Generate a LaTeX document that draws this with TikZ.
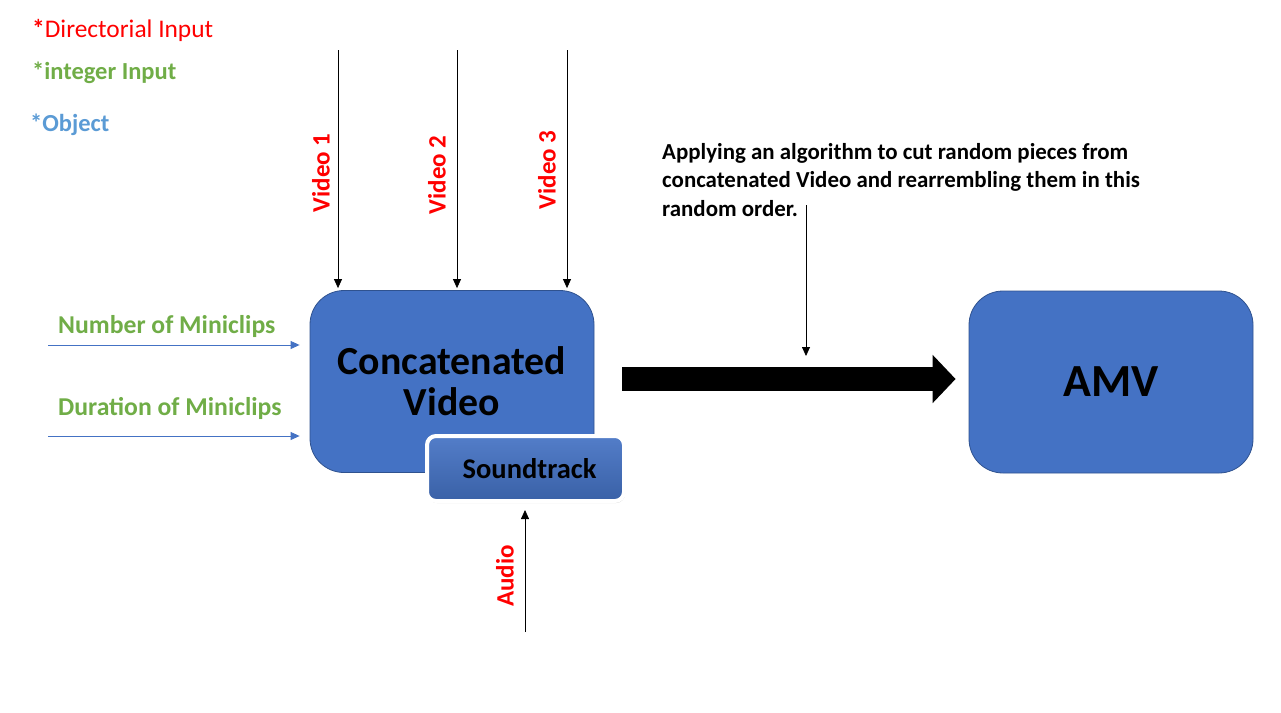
\documentclass[tikz,border=0pt]{standalone}
\usepackage{fontspec}
\setmainfont{Carlito}
\usetikzlibrary{arrows.meta,shadows}
\definecolor{boxblue}{HTML}{4472C4}
\definecolor{boxedge}{HTML}{2F528F}
\definecolor{inred}{HTML}{FF0000}
\definecolor{ingreen}{HTML}{70AD47}
\definecolor{objblue}{HTML}{5B9BD5}
\begin{document}
\begin{tikzpicture}[x=1pt,y=-1pt,
  bigbox/.style={draw=boxedge, line width=0.8pt, fill=boxblue, rounded corners=34pt,
    minimum width=284pt, minimum height=182pt, align=center, inner sep=0pt},
  soundbox/.style={draw=white, line width=4pt, top color=boxblue!92!white, bottom color=boxblue!85!black,
    rounded corners=9pt, minimum width=197pt, minimum height=65pt, inner sep=0pt,
    drop shadow={opacity=0.35, shadow xshift=1pt, shadow yshift=-2pt}},
  blk/.style={draw=black, line width=0.8pt, -{Triangle[length=9pt,width=8pt]}},
  bluearr/.style={draw=boxblue, line width=0.9pt, -{Triangle[length=9pt,width=8pt]}},
  bigarr/.style={draw=black, line width=24pt, -{Triangle[length=23pt,width=47pt]}},
  redlab/.style={text=inred, font=\fontsize{25}{29}\selectfont\bfseries, inner sep=0pt},
  greenlab/.style={text=ingreen, font=\fontsize{25.7}{29}\selectfont\bfseries, inner sep=0pt},
]
\useasboundingbox (0,0) rectangle (1281,712);

% legend
\node[anchor=base west, inner sep=0pt, text=inred, font=\fontsize{25.4}{29}\selectfont] (lg1) at (32,37) {\textbf{*}Directorial Input};
\node[anchor=base west, inner sep=0pt, text=ingreen, font=\fontsize{24.5}{29}\selectfont\bfseries] (lg2) at (32,79) {*integer Input};
\node[anchor=base west, inner sep=0pt, text=objblue, font=\fontsize{24.5}{29}\selectfont\bfseries] (lg3) at (30,131) {*Object};

% boxes
\node[bigbox, font=\fontsize{39.8}{41}\selectfont\bfseries] (cv) at (452,381.5) {Concatenated\\Video};
\node[bigbox, font=\fontsize{46}{50}\selectfont\bfseries] (amv) at (1111,382) {AMV};
\node[soundbox, font=\fontsize{28.5}{30}\selectfont\bfseries] (st) at (525.5,468.5) {\hspace*{8pt}Soundtrack};

% video inputs
\coordinate (t1) at (338,50);
\coordinate (t2) at (457,50);
\coordinate (t3) at (567,50);
\draw[blk, shorten >=2pt] (t1) -- (t1 |- cv.north);
\draw[blk, shorten >=2pt] (t2) -- (t2 |- cv.north);
\draw[blk, shorten >=2pt] (t3) -- (t3 |- cv.north);
\node[redlab, rotate=90] (v1) at (321,173) {Video 1};
\node[redlab, rotate=90] (v2) at (437,175) {Video 2};
\node[redlab, rotate=90] (v3) at (547,170) {Video 3};

% audio
\coordinate (a0) at (525,632);
\draw[blk, shorten >=7pt] (a0) -- (a0 |- st.south);
\node[redlab, rotate=90] (au) at (505,576) {Audio};

% integer inputs
\coordinate (n0) at (48,345);
\coordinate (d0) at (48,436);
\draw[bluearr, shorten >=10pt] (n0) -- (n0 -| cv.west);
\draw[bluearr, shorten >=10pt] (d0) -- (d0 -| cv.west);
\node[greenlab, anchor=base west] (nl) at (58,333) {Number of Miniclips};
\node[greenlab, anchor=base west] (dl) at (58,415) {Duration of Miniclips};

% big arrow
\coordinate (by) at (0,379);
\draw[bigarr, shorten <=28pt, shorten >=13pt] (cv.east |- by) -- (amv.west |- by);

% algorithm note
\node[anchor=north west, inner sep=0pt, align=left, font=\fontsize{22.9}{28.5}\selectfont\bfseries] (note) at (662,143)
  {Applying an algorithm to cut random pieces from\\concatenated Video and rearrembling them in this\\random order.};
\coordinate (p0) at (806,205);
\coordinate (p1) at (806,356);
\draw[blk] (p0) -- (p1);
\end{tikzpicture}
\end{document}
